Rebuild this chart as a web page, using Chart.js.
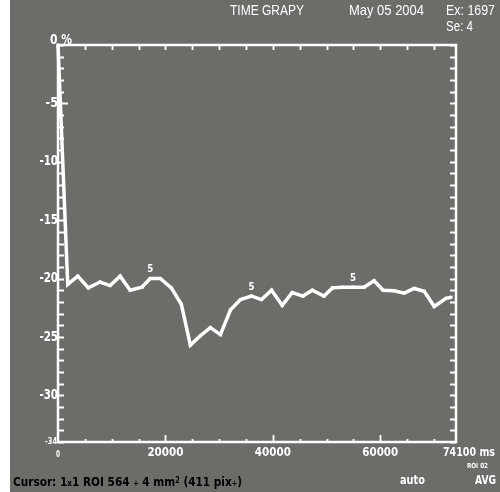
<!DOCTYPE html>
<html>
<head>
<meta charset="utf-8">
<script src="https://cdn.jsdelivr.net/npm/chart.js"></script>
<style>
  html, body { margin: 0; padding: 0; background: #6e6c69; }
  canvas { display: block; }
</style>
</head>
<body>
<canvas id="chart" width="500" height="492"></canvas>
<script>
// values
const timeMs = [0, 1810, 3680, 5660, 7840, 9700, 11570, 13440, 15620, 17170, 19040, 21090, 22960,
    24640, 26500, 28370, 30240, 32100, 33970, 36020, 37890, 39760, 41750, 43620, 45600, 47350,
    49520, 51090, 52950, 54930, 56980, 58850, 60530, 62580, 64450, 66320, 68180, 70050, 72230, 73170];
const pctValues = [0, -20.5, -19.8, -20.8, -20.3, -20.6, -19.8, -21.0, -20.75, -20.0, -20.0, -20.8, -22.2,
    -25.7, -24.9, -24.2, -24.8, -22.7, -21.8, -21.5, -21.8, -21.0, -22.3, -21.2, -21.5, -21.0,
    -21.5, -20.8, -20.75, -20.75, -20.75, -20.2, -21.0, -21.05, -21.25, -20.85, -21.1, -22.4, -21.7, -21.6];
const markedPoints = [9, 19, 29];     // points tagged with "5"
const yTickValues = [0, -5, -10, -15, -20, -25, -30];
const yTickLabels = ["0 %", "-5", "-10", "-15", "-20", "-25", "-30"];
const xTickValues = [20000, 40000, 60000];
const xTickLabels = ["20000", "40000", "60000"];
const xMax = 74100;
const yMin = -34;

const FONT = '"Liberation Sans", Arial, sans-serif';
const BOLD = '"DejaVu Sans Condensed", "DejaVu Sans", sans-serif';

// draw text squeezed to a given width (the original uses a condensed face)
function txt(ctx, s, x, y, size, weight, color, w, align, fam) {
    ctx.save();
    ctx.font = weight + " " + size + "px " + (fam || (weight === "bold" ? BOLD : FONT));
    const m = ctx.measureText(s).width;
    const sx = w ? w / m : 0.8;
    ctx.translate(x, y);
    ctx.scale(sx, 1);
    ctx.fillStyle = color;
    ctx.textBaseline = "middle";
    ctx.textAlign = align || "left";
    ctx.fillText(s, 0, 0);
    ctx.restore();
}

const framePlugin = {
    id: "frame",
    beforeDraw(chart) {
        const ctx = chart.ctx;
        ctx.save();
        ctx.fillStyle = "#6e6c69";
        ctx.fillRect(0, 0, chart.width, chart.height);
        ctx.fillStyle = "#ffffff";
        ctx.fillRect(0, 0, 10, chart.height);
        ctx.restore();
    },
    afterDatasetsDraw(chart) {
        const ctx = chart.ctx;
        const xs = chart.scales.x, ys = chart.scales.y;
        const a = chart.chartArea;
        ctx.save();
        ctx.strokeStyle = "#ffffff";
        ctx.lineWidth = 2.5;
        ctx.strokeRect(a.left, a.top, a.right - a.left, a.bottom - a.top);
        ctx.lineWidth = 1.8;
        ctx.beginPath();
        // left and right ticks, one per percent, pointing inwards
        for (let v = 0; v >= yMin; v--) {
            const py = Math.round(ys.getPixelForValue(v)) + 0.5;
            ctx.moveTo(a.left, py); ctx.lineTo(a.left + (v === -5 ? 10 : 6), py);
            ctx.moveTo(a.right, py); ctx.lineTo(a.right - 6, py);
        }
        // top and bottom ticks every 5000 ms
        for (let t = 5000; t < xMax; t += 5000) {
            const px = Math.round(xs.getPixelForValue(t)) + 0.5;
            const big = t % 20000 === 0;
            ctx.moveTo(px, a.top); ctx.lineTo(px, a.top + 5);
            ctx.moveTo(px, a.bottom); ctx.lineTo(px, a.bottom - (big ? 7 : 3));
        }
        ctx.stroke();
        ctx.restore();

        // y labels
        yTickValues.forEach((v, i) => {
            const py = ys.getPixelForValue(v);
            if (v === 0) txt(ctx, yTickLabels[i], 50, 40, 14, "bold", "#fff", 22, "left");
            else txt(ctx, yTickLabels[i], 58, py, 14, "bold", "#fff", yTickLabels[i].length * 6.2, "right");
        });
        txt(ctx, "-34", 57, ys.getPixelForValue(yMin), 8, "bold", "#fff", 12, "right");
        // x labels
        xTickValues.forEach((t, i) => {
            txt(ctx, xTickLabels[i], xs.getPixelForValue(t), 453, 13, "bold", "#fff", 36, "center");
        });
        txt(ctx, "0", xs.getPixelForValue(0), 455, 8, "bold", "#fff", 4, "center");
        txt(ctx, "74100 ms", 443, 453, 13, "bold", "#fff", 52, "left");
        txt(ctx, "ROI 02", 467, 466, 7, "bold", "#fff", 21, "left");
        txt(ctx, "auto", 400, 481, 12, "bold", "#fff", 25, "left");
        txt(ctx, "AVG", 475, 481, 12, "bold", "#fff", 21, "left");

        // "5" tags above some points
        const meta = chart.getDatasetMeta(0);
        markedPoints.forEach(i => {
            const p = meta.data[i];
            txt(ctx, "5", p.x, p.y - 9, 10, "bold", "#fff", 6, "center");
        });

        // header
        txt(ctx, "TIME GRAPY", 230, 11, 15, "normal", "#fff", 74, "left");
        txt(ctx, "May 05 2004", 349, 11, 15, "normal", "#fff", 75, "left");
        txt(ctx, "Ex: 1697", 446, 11, 15, "normal", "#fff", 49, "left");
        txt(ctx, "Se: 4", 446, 27, 15, "normal", "#fff", 27, "left");

        // cursor line (mixed sizes)
        const parts = [
            ["Cursor: 1", 13, 0], ["x", 9, 1], ["1 ROI 564 ", 13, 0], ["+", 8, 1],
            [" 4 mm", 13, 0], ["2", 8, -2], [" (411 pix", 13, 0], ["+", 8, 1], [")", 13, 0]
        ];
        ctx.save();
        let total = 0;
        parts.forEach(p => { ctx.font = "bold " + p[1] + "px " + BOLD; total += ctx.measureText(p[0]).width; });
        const sx = 229 / total;
        let cx = 13;
        parts.forEach(p => {
            ctx.font = "bold " + p[1] + "px " + BOLD;
            const w = ctx.measureText(p[0]).width * sx;
            txt(ctx, p[0], cx, 483 + p[2], p[1], "bold", "#000", w, "left");
            cx += w;
        });
        ctx.restore();
    }
};

new Chart(document.getElementById("chart"), {
    type: "line",
    data: {
        datasets: [{
            data: timeMs.map((t, i) => ({ x: t, y: pctValues[i] })),
            borderColor: "#ffffff",
            backgroundColor: "#ffffff",
            borderWidth: 3.5,
            pointStyle: "rect",
            pointRadius: 2.2,
            pointBorderWidth: 0,
            tension: 0,
            clip: false
        }]
    },
    options: {
        responsive: false,
        animation: false,
        events: [],
        layout: { padding: { left: 58, top: 45, right: 44, bottom: 50 } },
        plugins: { legend: { display: false }, tooltip: { enabled: false } },
        scales: {
            x: { type: "linear", min: 0, max: xMax, display: false },
            y: { min: yMin, max: 0, display: false }
        }
    },
    plugins: [framePlugin]
});
</script>
</body>
</html>
